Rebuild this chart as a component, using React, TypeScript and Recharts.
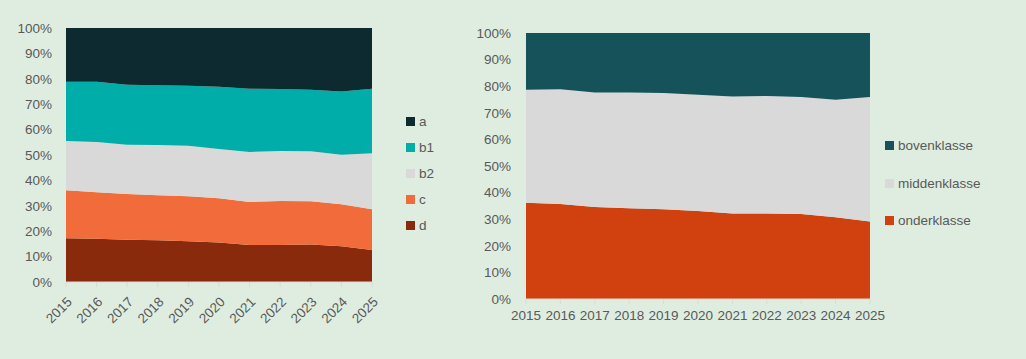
import { AreaChart, Area, XAxis, YAxis } from 'recharts';

const YEARS = ['2015', '2016', '2017', '2018', '2019', '2020', '2021', '2022', '2023', '2024', '2025'];

// left chart, shares per group (bottom to top: d, c, b2, b1, a)
const D = [17.2, 17.0, 16.6, 16.4, 16.0, 15.6, 14.6, 14.6, 14.8, 14.1, 12.6];
const C = [18.9, 18.3, 18.0, 17.8, 17.8, 17.4, 16.9, 17.3, 17.0, 16.5, 16.0];
const B2 = [19.4, 19.8, 19.4, 19.7, 19.8, 19.4, 19.7, 19.7, 19.7, 19.5, 22.1];
const B1 = [23.3, 23.7, 23.7, 23.6, 23.7, 24.5, 24.9, 24.4, 24.2, 24.9, 25.4];
const A = [21.2, 21.2, 22.3, 22.5, 22.7, 23.1, 23.9, 24.0, 24.3, 25.0, 23.9];

// right chart
const ONDER = [36.2, 35.7, 34.6, 34.1, 33.7, 33.1, 32.1, 32.1, 32.0, 30.7, 29.1];
const MIDDEN = [42.5, 43.2, 43.0, 43.5, 43.7, 43.7, 44.0, 44.2, 43.9, 44.2, 46.8];
const BOVEN = [21.3, 21.1, 22.4, 22.4, 22.6, 23.2, 23.9, 23.7, 24.1, 25.1, 24.1];

const PCT_TICKS = [0, 0.1, 0.2, 0.3, 0.4, 0.5, 0.6, 0.7, 0.8, 0.9, 1];

const BG = '#DEEDE0';
const TEXT = '#595959';
const FONT = '"Liberation Sans", Arial, sans-serif';
const FS = 13.5;

const LEFT_SERIES = [
  { key: 'd', label: 'd', color: '#8A2A0C' },
  { key: 'c', label: 'c', color: '#F26B3B' },
  { key: 'b2', label: 'b2', color: '#D9D9D9' },
  { key: 'b1', label: 'b1', color: '#00ADA9' },
  { key: 'a', label: 'a', color: '#0D2A30' },
];

const RIGHT_SERIES = [
  { key: 'onder', label: 'onderklasse', color: '#D0410F' },
  { key: 'midden', label: 'middenklasse', color: '#D9D9D9' },
  { key: 'boven', label: 'bovenklasse', color: '#16525A' },
];

const leftData = YEARS.map((year, i) => ({ year, d: D[i], c: C[i], b2: B2[i], b1: B1[i], a: A[i] }));
const rightData = YEARS.map((year, i) => ({ year, onder: ONDER[i], midden: MIDDEN[i], boven: BOVEN[i] }));

const pct = (v: number) => `${Math.round(v * 100)}%`;

function SideLegend({
  items,
  left,
  top,
  gap,
}: {
  items: { key: string; label: string; color: string }[];
  left: number;
  top: number;
  gap: number;
}) {
  return (
    <div style={{ position: 'absolute', left, top, fontFamily: FONT, fontSize: FS, color: TEXT }}>
      {[...items].reverse().map((s) => (
        <div key={s.key} style={{ display: 'flex', alignItems: 'center', height: gap }}>
          <span style={{ width: 9, height: 9, background: s.color, marginRight: 4 }} />
          <span>{s.label}</span>
        </div>
      ))}
    </div>
  );
}

export default function App() {
  const tickStyle = { fill: TEXT, fontSize: FS, fontFamily: FONT };
  return (
    <div style={{ position: 'absolute', left: 0, top: 0, width: 1026, height: 359, background: BG, overflow: 'hidden' }}>
      {/* left chart */}
      <div style={{ position: 'absolute', left: 0, top: 0 }}>
        <AreaChart width={400} height={359} data={leftData} stackOffset="expand" margin={{ top: 28, right: 28, bottom: 17, left: 0 }}>
          <XAxis
            dataKey="year"
            interval={0}
            height={60}
            tick={tickStyle}
            angle={-45}
            textAnchor="end"
            tickSize={5}
            tickMargin={9}
            stroke="#D9D9D9"
          />
          <YAxis
            type="number"
            domain={[0, 1]}
            ticks={PCT_TICKS}
            tickFormatter={pct}
            width={66}
            tick={tickStyle}
            axisLine={false}
            tickLine={false}
            tickSize={0}
            tickMargin={14}
          />
          {LEFT_SERIES.map((s) => (
            <Area
              key={s.key}
              type="linear"
              dataKey={s.key}
              stackId="1"
              stroke="none"
              fill={s.color}
              fillOpacity={1}
              isAnimationActive={false}
            />
          ))}
        </AreaChart>
      </div>
      <SideLegend items={LEFT_SERIES} left={406} top={108} gap={26} />

      {/* right chart */}
      <div style={{ position: 'absolute', left: 460, top: 0 }}>
        <AreaChart width={430} height={359} data={rightData} stackOffset="expand" margin={{ top: 33, right: 20, bottom: 30, left: 0 }}>
          <XAxis
            dataKey="year"
            interval={0}
            height={30}
            tick={tickStyle}
            tickSize={5}
            tickMargin={6}
            stroke="#D9D9D9"
          />
          <YAxis
            type="number"
            domain={[0, 1]}
            ticks={PCT_TICKS}
            tickFormatter={pct}
            width={66}
            tick={tickStyle}
            axisLine={false}
            tickLine={false}
            tickSize={0}
            tickMargin={15}
          />
          {RIGHT_SERIES.map((s) => (
            <Area
              key={s.key}
              type="linear"
              dataKey={s.key}
              stackId="1"
              stroke="none"
              fill={s.color}
              fillOpacity={1}
              isAnimationActive={false}
            />
          ))}
        </AreaChart>
      </div>
      <SideLegend items={RIGHT_SERIES} left={885} top={127} gap={37.5} />
    </div>
  );
}
